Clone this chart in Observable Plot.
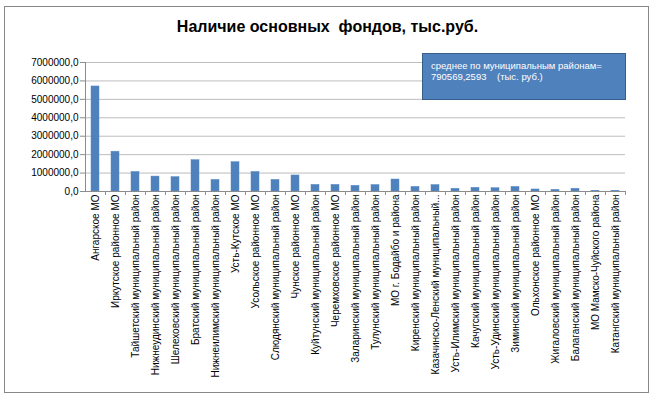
<!DOCTYPE html>
<html>
<head>
<meta charset="utf-8">
<script src="https://cdn.jsdelivr.net/npm/d3@7"></script>
<script src="https://cdn.jsdelivr.net/npm/@observablehq/plot@0.6"></script>
<style>
  body { margin: 0; background: #fff; }
  #wrap { position: relative; width: 657px; height: 397px; overflow: hidden; font-family: "Liberation Sans", Arial, sans-serif; }
  #frame { position: absolute; left: 4px; top: 6px; width: 645px; height: 387px; border: 1px solid #888; box-sizing: border-box; pointer-events: none; }
  #title { position: absolute; left: 0; width: 655px; top: 18px; text-align: center; font-weight: bold; font-size: 16px; color: #000; white-space: pre; }
  #note { position: absolute; left: 422px; top: 53px; width: 204px; height: 47px; box-sizing: border-box; background: #4f81bd; border: 1.5px solid #385d8a; color: #fff; font-size: 9.5px; line-height: 11px; padding: 6px 0 0 8px; white-space: pre; }
  #chart { position: absolute; left: 0; top: 0; }
</style>
</head>
<body>
<div id="wrap">
  <div id="chart"></div>
  <div id="frame"></div>
  <div id="title"></div>
  <div id="note"></div>
</div>
<script>
const titleText = "Наличие основных  фондов, тыс.руб.";
const noteLines = ["среднее по муниципальным районам=", "790569,2593    (тыс. руб.)"];

const categories = [
  "Ангарское МО",
  "Иркутское районное МО",
  "Тайшетский муниципальный район",
  "Нижнеудинский муниципальный район",
  "Шелеховский муниципальный район",
  "Братский муниципальный район",
  "Нижнеилимский муниципальный район",
  "Усть-Кутское МО",
  "Усольское районное МО",
  "Слюдянский муниципальный район",
  "Чунское районное МО",
  "Куйтунский муниципальный район",
  "Черемховское районное МО",
  "Заларинский муниципальный район",
  "Тулунский муниципальный район",
  "МО г. Бодайбо и района",
  "Киренский муниципальный район",
  "Казачинско-Ленский муниципальный...",
  "Усть-Илимский муниципальный район",
  "Качугский муниципальный район",
  "Усть-Удинский муниципальный район",
  "Зиминский муниципальный район",
  "Ольхонское районное МО",
  "Жигаловский муниципальный район",
  "Балаганский муниципальный район",
  "МО Мамско-Чуйского района",
  "Катангский муниципальный район"
];
const values = [
  5700000, 2160000, 1060000, 810000, 780000, 1700000, 630000, 1590000, 1060000,
  630000, 870000, 360000, 360000, 310000, 350000, 650000, 250000, 350000,
  150000, 200000, 180000, 250000, 110000, 90000, 150000, 40000, 40000
];
const yTicks = [0, 1000000, 2000000, 3000000, 4000000, 5000000, 6000000, 7000000];

const data = categories.map((c, i) => ({name: c, value: values[i]}));
const fmt = d => d.toFixed(1).replace(".", ",");

const chart = Plot.plot({
  width: 657,
  height: 397,
  marginLeft: 85,
  marginRight: 32,
  marginTop: 62,
  marginBottom: 206,
  style: {fontFamily: "Liberation Sans, Arial, sans-serif", fontSize: "10px", color: "#000", background: "transparent"},
  x: {domain: categories, paddingInner: 0.62, paddingOuter: 0.31, align: 0.5, label: null},
  y: {domain: [0, 7000000], label: null},
  marks: [
    Plot.gridY(yTicks, {stroke: "#bdbdbd", strokeOpacity: 1}),
    Plot.barY(data, {x: "name", y: "value", fill: "#4f81bd", stroke: "#5b8cc6", strokeWidth: 0.5}),
    Plot.ruleY([0], {stroke: "#8c8c8c"}),
    Plot.axisY({ticks: yTicks, tickFormat: fmt, tickSize: 5, tickPadding: 2, stroke: "#8c8c8c", fontSize: 10, label: null}),
    Plot.ruleX([categories[0]], {dx: -10, stroke: "#8c8c8c"}),
    Plot.axisX({tickSize: 4, dx: 10, tickFormat: () => "", stroke: "#8c8c8c", label: null}),
    Plot.axisX({tickSize: 0, tickRotate: -90, tickPadding: 3, fontSize: 10, label: null})
  ]
});
document.getElementById("chart").appendChild(chart);
document.getElementById("title").textContent = titleText;
document.getElementById("note").textContent = noteLines.join("\n");
</script>
</body>
</html>
